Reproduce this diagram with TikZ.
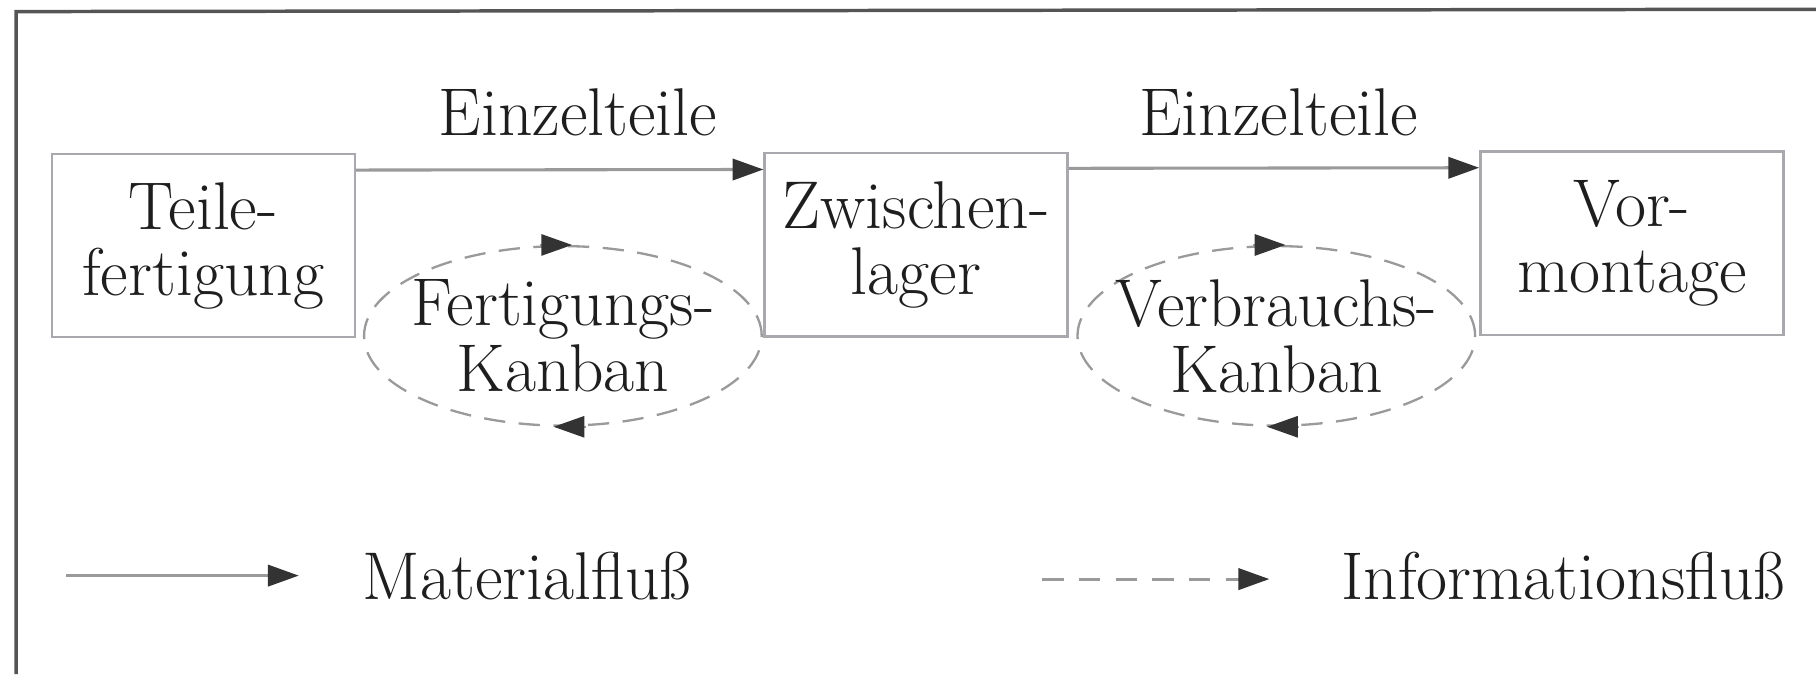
\documentclass[tikz,border=0pt]{standalone}
\usetikzlibrary{arrows.meta,shapes.geometric,calc}
\definecolor{framec}{HTML}{555555}
\definecolor{linec}{HTML}{9A9A9A}
\definecolor{boxc}{HTML}{A8A8AE}
\definecolor{tipc}{HTML}{333333}
\definecolor{txtc}{HTML}{1E1E1E}
\tikzset{
  box/.style={draw=boxc, line width=1.2pt, minimum width=157pt, minimum height=95pt, inner sep=0pt},
  lbl/.style={text=txtc, font=\fontsize{35}{34.2}\selectfont, align=center, inner sep=0pt},
  flow/.style={draw=linec, line width=1.6pt, -{Triangle[length=16pt,width=11pt,fill=tipc,color=tipc]}},
  loopell/.style={ellipse, draw=linec, line width=1.2pt, dash pattern=on 11pt off 7pt, minimum width=206pt, minimum height=93pt, inner sep=0pt},
  tiponly/.style={draw=linec, line width=1.2pt, -{Triangle[length=16pt,width=11pt,fill=tipc,color=tipc]}},
  legdash/.style={draw=linec, line width=1.6pt, dash pattern=on 11pt off 8pt, -{Triangle[length=16pt,width=11pt,fill=tipc,color=tipc]}}
}
\begin{document}
\begin{tikzpicture}[x=0.6pt,y=-0.6pt]
\useasboundingbox (0,0) rectangle (1568,582);
% frame
\draw[framec, line width=1.8pt] (14,582) -- (14,10) -- (1568,8);
% boxes
\node[box] (tf) at (175.5,212) {};
\node[box] (zl) at (791,211.5) {};
\node[box] (vm) at (1409,210) {};
\node[lbl] at (tf.center) {Teile-\\fertigung};
\node[lbl] at (zl.center) {Zwischen-\\lager};
\node[lbl] at (vm.center) {Vor-\\montage};
% material flow
\draw[flow] ($(tf.north east)+(0,15)$) -- ($(zl.north west)+(0,15)$);
\draw[flow] ($(zl.north east)+(0,14)$) -- ($(vm.north west)+(0,15)$);
\node[lbl] (e1) at (499,97) {Einzelteile};
\node[lbl] (e2) at (1104,97) {Einzelteile};
% kanban loops
\node[loopell] (fk) at (486,290) {};
\node[lbl] at (fk.center) {Fertigungs-\\Kanban};
\draw[tiponly] ($(fk.north)+(-20,0)$) -- ($(fk.north)+(8,0)$);
\draw[tiponly] ($(fk.south)+(20,0)$) -- ($(fk.south)+(-8,0)$);
\node[loopell] (vk) at (1102,290) {};
\node[lbl] at (vk.center) {Verbrauchs-\\Kanban};
\draw[tiponly] ($(vk.north)+(-20,0)$) -- ($(vk.north)+(8,0)$);
\draw[tiponly] ($(vk.south)+(20,0)$) -- ($(vk.south)+(-8,0)$);
% legend
\coordinate (m1) at (57,497);
\coordinate (m2) at (258,497);
\draw[flow] (m1) -- (m2);
\node[lbl, anchor=west] (mt) at (313,497) {Materialfluß};
\coordinate (i1) at (900,500);
\coordinate (i2) at (1096,500);
\draw[legdash] (i1) -- (i2);
\node[lbl, anchor=west] (it) at (1158,497) {Informationsfluß};
\end{tikzpicture}
\end{document}
